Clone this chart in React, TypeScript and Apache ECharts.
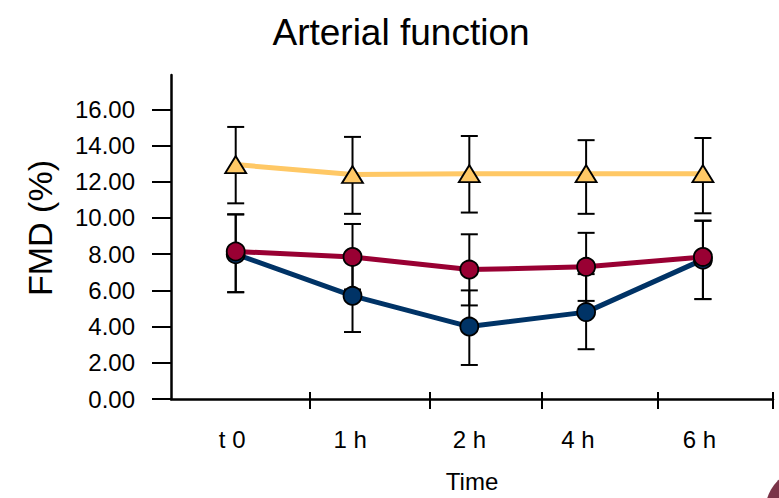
import React, { useEffect, useRef } from "react";
import * as echarts from "echarts";

// Categories and tick values
const categories = ["t 0", "1 h", "2 h", "4 h", "6 h"];
const yTickValues = [0, 2, 4, 6, 8, 10, 12, 14, 16];

// Series: mean values and error-bar ends
const yellowMean = [12.95, 12.4, 12.45, 12.45, 12.45];
const yellowHigh = [15.03, 14.48, 14.53, 14.3, 14.42];
const yellowLow = [10.81, 10.23, 10.3, 10.23, 10.26];

const redMean = [8.15, 7.85, 7.15, 7.3, 7.85];
const redHigh = [10.2, 9.67, 9.1, 9.18, 9.85];
const redLow = [5.9, 6.05, 5.17, 5.42, 5.52];

const blueMean = [8.0, 5.7, 4.0, 4.8, 7.7];
const blueHigh = [10.2, 7.66, 6.0, 6.9, 9.85];
const blueLow = [5.9, 3.7, 1.88, 2.75, 5.52];

// Axis layout (category positions on a value axis)
const xMin = -0.554;
const xMax = 4.6;
const xLabelPos = [-0.03, 0.98, 2.0, 2.93, 3.97];
const xTickPos = [0.63, 1.663, 2.62, 3.611, 4.6];

const FONT = "'Liberation Sans', Arial, sans-serif";

const YELLOW = "#FFC865";
const RED = "#990033";
const BLUE = "#003366";

function errSeries(high: number[], low: number[], name: string) {
  return {
    type: "custom",
    name,
    xAxisIndex: 0,
    yAxisIndex: 0,
    z: 1,
    encode: { x: 0, y: [1, 2] },
    data: high.map((h, i) => [i, h, low[i]]),
    renderItem: (params: any, api: any) => {
      const x = api.value(0);
      const top = api.coord([x, api.value(1)]);
      const bot = api.coord([x, api.value(2)]);
      const hw = 8.5;
      const st = { stroke: "#000", lineWidth: 2 };
      return {
        type: "group",
        children: [
          { type: "line", shape: { x1: top[0], y1: top[1], x2: bot[0], y2: bot[1] }, style: st },
          { type: "line", shape: { x1: top[0] - hw, y1: top[1], x2: top[0] + hw, y2: top[1] }, style: st },
          { type: "line", shape: { x1: bot[0] - hw, y1: bot[1], x2: bot[0] + hw, y2: bot[1] }, style: st },
        ],
      };
    },
  };
}

function lineSeries(mean: number[], color: string, symbol: string, size: any, name: string, z: number) {
  return {
    type: "line",
    name,
    z,
    data: mean.map((m, i) => [i, m]),
    symbol,
    symbolSize: size,
    lineStyle: { color, width: 5 },
    itemStyle: { color, borderColor: "#000", borderWidth: 1.8 },
    showSymbol: true,
  };
}

export default function App() {
  const ref = useRef<HTMLDivElement>(null);
  useEffect(() => {
    if (!ref.current) return;
    const chart = echarts.init(ref.current, null, { renderer: "svg" });
    chart.setOption({
      animation: false,
      backgroundColor: "#ffffff",
      grid: { left: 171, right: 6, top: 75, bottom: 99, containLabel: false },
      xAxis: [
        {
          type: "value",
          min: xMin,
          max: xMax,
          position: "bottom",
          name: "Time",
          nameLocation: "middle",
          nameGap: 70,
          nameTextStyle: { fontSize: 24, color: "#000", fontFamily: FONT },
          axisLine: { show: true, onZero: false, lineStyle: { color: "#000", width: 2.5 } },
          axisTick: { show: true, customValues: xTickPos, length: 10, lineStyle: { color: "#000", width: 2 } },
          axisLabel: {
            show: true,
            customValues: xLabelPos,
            margin: 28,
            fontSize: 24,
            color: "#000",
            fontFamily: FONT,
            formatter: (v: number) => {
              let best = 0;
              for (let i = 0; i < xLabelPos.length; i++) {
                if (Math.abs(xLabelPos[i] - v) < Math.abs(xLabelPos[best] - v)) best = i;
              }
              return categories[best];
            },
          },
          splitLine: { show: false },
        },
        {
          type: "value",
          min: xMin,
          max: xMax,
          position: "bottom",
          offset: 0,
          axisLine: { show: false, onZero: false },
          axisTick: { show: true, inside: true, customValues: xTickPos, length: 7, lineStyle: { color: "#000", width: 2 } },
          axisLabel: { show: false },
          splitLine: { show: false },
        },
      ],
      yAxis: {
        type: "value",
        min: 0,
        max: 17.9,
        axisLine: { show: true, onZero: false, lineStyle: { color: "#000", width: 2.5 } },
        axisTick: { show: true, customValues: yTickValues, length: 19, lineStyle: { color: "#000", width: 2 } },
        axisLabel: {
          show: true,
          customValues: yTickValues,
          margin: 36,
          fontSize: 24,
          color: "#000",
          fontFamily: FONT,
          formatter: (v: number) => v.toFixed(2),
        },
        splitLine: { show: false },
      },
      graphic: [
        {
          type: "text",
          x: 401,
          y: 32,
          style: {
            text: "Arterial function",
            fontSize: 37,
            fontFamily: FONT,
            fill: "#000",
            textAlign: "center",
            textVerticalAlign: "middle",
          },
        },
        {
          type: "text",
          x: 40,
          y: 228,
          rotation: Math.PI / 2,
          style: {
            text: "FMD (%)",
            fontSize: 34,
            fontFamily: FONT,
            fill: "#000",
            textAlign: "center",
            textVerticalAlign: "middle",
          },
        },
        {
          type: "circle",
          shape: { cx: 810, cy: 512, r: 45 },
          style: { fill: "#7b3448" },
        },
      ],
      series: [
        errSeries(blueHigh, blueLow, "blue-err"),
        errSeries(redHigh, redLow, "red-err"),
        errSeries(yellowHigh, yellowLow, "yellow-err"),
        lineSeries(blueMean, BLUE, "circle", 18, "blue", 3),
        lineSeries(redMean, RED, "circle", 18, "red", 4),
        lineSeries(yellowMean, YELLOW, "triangle", [21, 17], "yellow", 5),
      ],
    });
    return () => chart.dispose();
  }, []);
  return (
    <div
      ref={ref}
      style={{ position: "absolute", left: 0, top: 0, width: 779, height: 498 }}
    />
  );
}
